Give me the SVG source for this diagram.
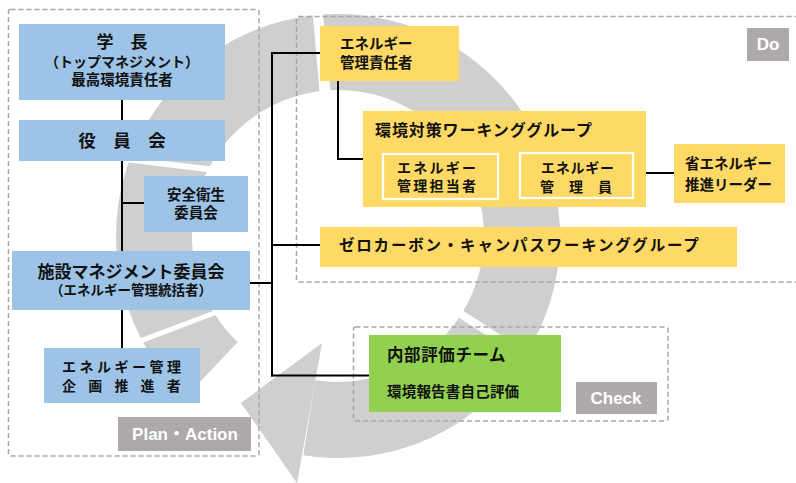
<svg xmlns="http://www.w3.org/2000/svg" width="796" height="483" viewBox="0 0 796 483">
<style>
.t{font-family:"Noto Sans CJK JP","Noto Sans CJK SC",sans-serif;font-weight:bold;fill:#111;}
.lb{font-family:"Liberation Sans","Noto Sans CJK JP",sans-serif;font-weight:bold;fill:#fff;font-size:17px;text-anchor:middle;}
.blue{fill:#9dc3e6;}
.yel{fill:#ffd966;}
.grn{fill:#92d050;}
.tag{fill:#aeaaaa;}
.dash{fill:none;stroke:#a6a6a6;stroke-width:1.5;stroke-dasharray:5 3;}
.ln{fill:none;stroke:#000;stroke-width:2;}
.ring{fill:#d0cece;}
.gap{fill:#fff;}
.m{text-anchor:middle;}
</style>
<rect width="796" height="483" fill="#fff"/>
<g id="cycle">
<path class="ring" d="M185.5,397.3 A222,222 0 1 1 303.3,455.3 L315.2,380.2 A146,146 0 1 0 237.7,342.1 Z"/>
<polygon class="ring" points="322,343 297,483 241,403"/>
<polygon class="gap" points="312,4 322,3 331,97 320,98"/>
<polygon class="gap" points="100,153 215,167 215,173 100,159"/>
<polygon class="gap" points="458.1,307.6 534.1,356.6 529.9,363.4 453.9,314.4"/>
<line x1="133" y1="343.7" x2="225" y2="309" stroke="#fff" stroke-width="5"/>
</g>
<g id="frames">
<rect class="dash" x="8.5" y="9.5" width="250.5" height="446.5" rx="2"/>
<rect class="dash" x="296.5" y="16.5" width="505" height="265.5" rx="2"/>
<rect class="dash" x="353.5" y="327" width="314.5" height="94" rx="2"/>
</g>
<g id="connectors">
<line class="ln" x1="122" y1="100" x2="122" y2="120"/>
<line class="ln" x1="122" y1="161" x2="122" y2="251"/>
<line class="ln" x1="122" y1="203" x2="144" y2="203"/>
<line class="ln" x1="122" y1="310" x2="122" y2="348"/>
<line class="ln" x1="250" y1="283" x2="272" y2="283"/>
<line class="ln" x1="272" y1="52" x2="272" y2="376.5" stroke-width="2.6"/>
<line class="ln" x1="271" y1="53" x2="320" y2="53" stroke-width="2.4"/>
<line class="ln" x1="272" y1="245" x2="320" y2="245" stroke-width="1.6"/>
<line class="ln" x1="271" y1="375.5" x2="369" y2="375.5" stroke-width="2.8"/>
<polyline class="ln" points="338,81 338,159 363,159"/>
<line class="ln" x1="646" y1="173" x2="674" y2="173"/>
</g>
<g id="node-president">
<rect class="blue" x="19" y="24" width="206" height="76"/>
<text class="t m" x="122" y="48" font-size="17">学　長</text>
<text class="t m" x="122" y="67" font-size="14">（トップマネジメント）</text>
<text class="t m" x="122" y="85" font-size="14.5">最高環境責任者</text>
</g>
<g id="node-board">
<rect class="blue" x="19" y="120" width="206" height="41"/>
<text class="t m" x="122" y="147" font-size="17.5">役　員　会</text>
</g>
<g id="node-safety">
<rect class="blue" x="144" y="176" width="104" height="56"/>
<text class="t m" x="196" y="200" font-size="14.5">安全衛生</text>
<text class="t m" x="196" y="218" font-size="14.5">委員会</text>
</g>
<g id="node-facility">
<rect class="blue" x="12" y="251" width="238" height="59"/>
<text class="t m" x="131" y="278" font-size="17">施設マネジメント委員会</text>
<text class="t m" x="131" y="295" font-size="13.5">（エネルギー管理統括者）</text>
</g>
<g id="node-planner">
<rect class="blue" x="44" y="348" width="156" height="55"/>
<text class="t" x="62" y="372" font-size="14" letter-spacing="3.5">エネルギー管理</text>
<text class="t" x="62" y="391" font-size="14" letter-spacing="12.2">企画推進者</text>
</g>
<g id="label-plan">
<rect class="tag" x="118" y="417" width="133" height="34"/>
<text class="lb" x="185" y="440">Plan・Action</text>
</g>
<g id="node-energy-manager">
<rect class="yel" x="320" y="26" width="139" height="55"/>
<text class="t" x="340" y="49" font-size="14.5">エネルギー</text>
<text class="t" x="340" y="68" font-size="14.5">管理責任者</text>
</g>
<g id="label-do">
<rect class="tag" x="747" y="28" width="42" height="33"/>
<text class="lb" x="768" y="50">Do</text>
</g>
<g id="node-env-wg">
<rect class="yel" x="363" y="111" width="283" height="96"/>
<text class="t" x="375" y="136" font-size="16" letter-spacing="0.9">環境対策ワーキンググループ</text>
<g id="node-energy-staff">
<rect x="383" y="154" width="115" height="45" fill="none" stroke="#fff" stroke-width="2.2"/>
<text class="t" x="397" y="173" font-size="14" letter-spacing="2.25">エネルギー</text>
<text class="t" x="397" y="191" font-size="14" letter-spacing="2.25">管理担当者</text>
</g>
<g id="node-energy-officer">
<rect x="520" y="153" width="113" height="45" fill="none" stroke="#fff" stroke-width="2.2"/>
<text class="t" x="541" y="173" font-size="14" letter-spacing="0.75">エネルギー</text>
<text class="t" x="540" y="192" font-size="14" letter-spacing="0.5">管　理　員</text>
</g>
</g>
<g id="node-leader">
<rect class="yel" x="674" y="144" width="111" height="59"/>
<text class="t" x="685" y="169" font-size="14.5">省エネルギー</text>
<text class="t" x="685" y="190" font-size="14.5">推進リーダー</text>
</g>
<g id="node-zero-carbon">
<rect class="yel" x="320" y="227" width="417" height="40"/>
<text class="t" x="339" y="251" font-size="15.5" letter-spacing="1.8">ゼロカーボン・キャンパスワーキンググループ</text>
</g>
<g id="node-audit">
<rect class="grn" x="369" y="335" width="192" height="77"/>
<text class="t" x="387" y="361" font-size="16.5" letter-spacing="0.6">内部評価チーム</text>
<text class="t" x="387" y="397" font-size="14.5" letter-spacing="0.2">環境報告書自己評価</text>
</g>
<g id="label-check">
<rect class="tag" x="576" y="382" width="81" height="32"/>
<text class="lb" x="616" y="404" font-size="17.5">Check</text>
</g>
</svg>
